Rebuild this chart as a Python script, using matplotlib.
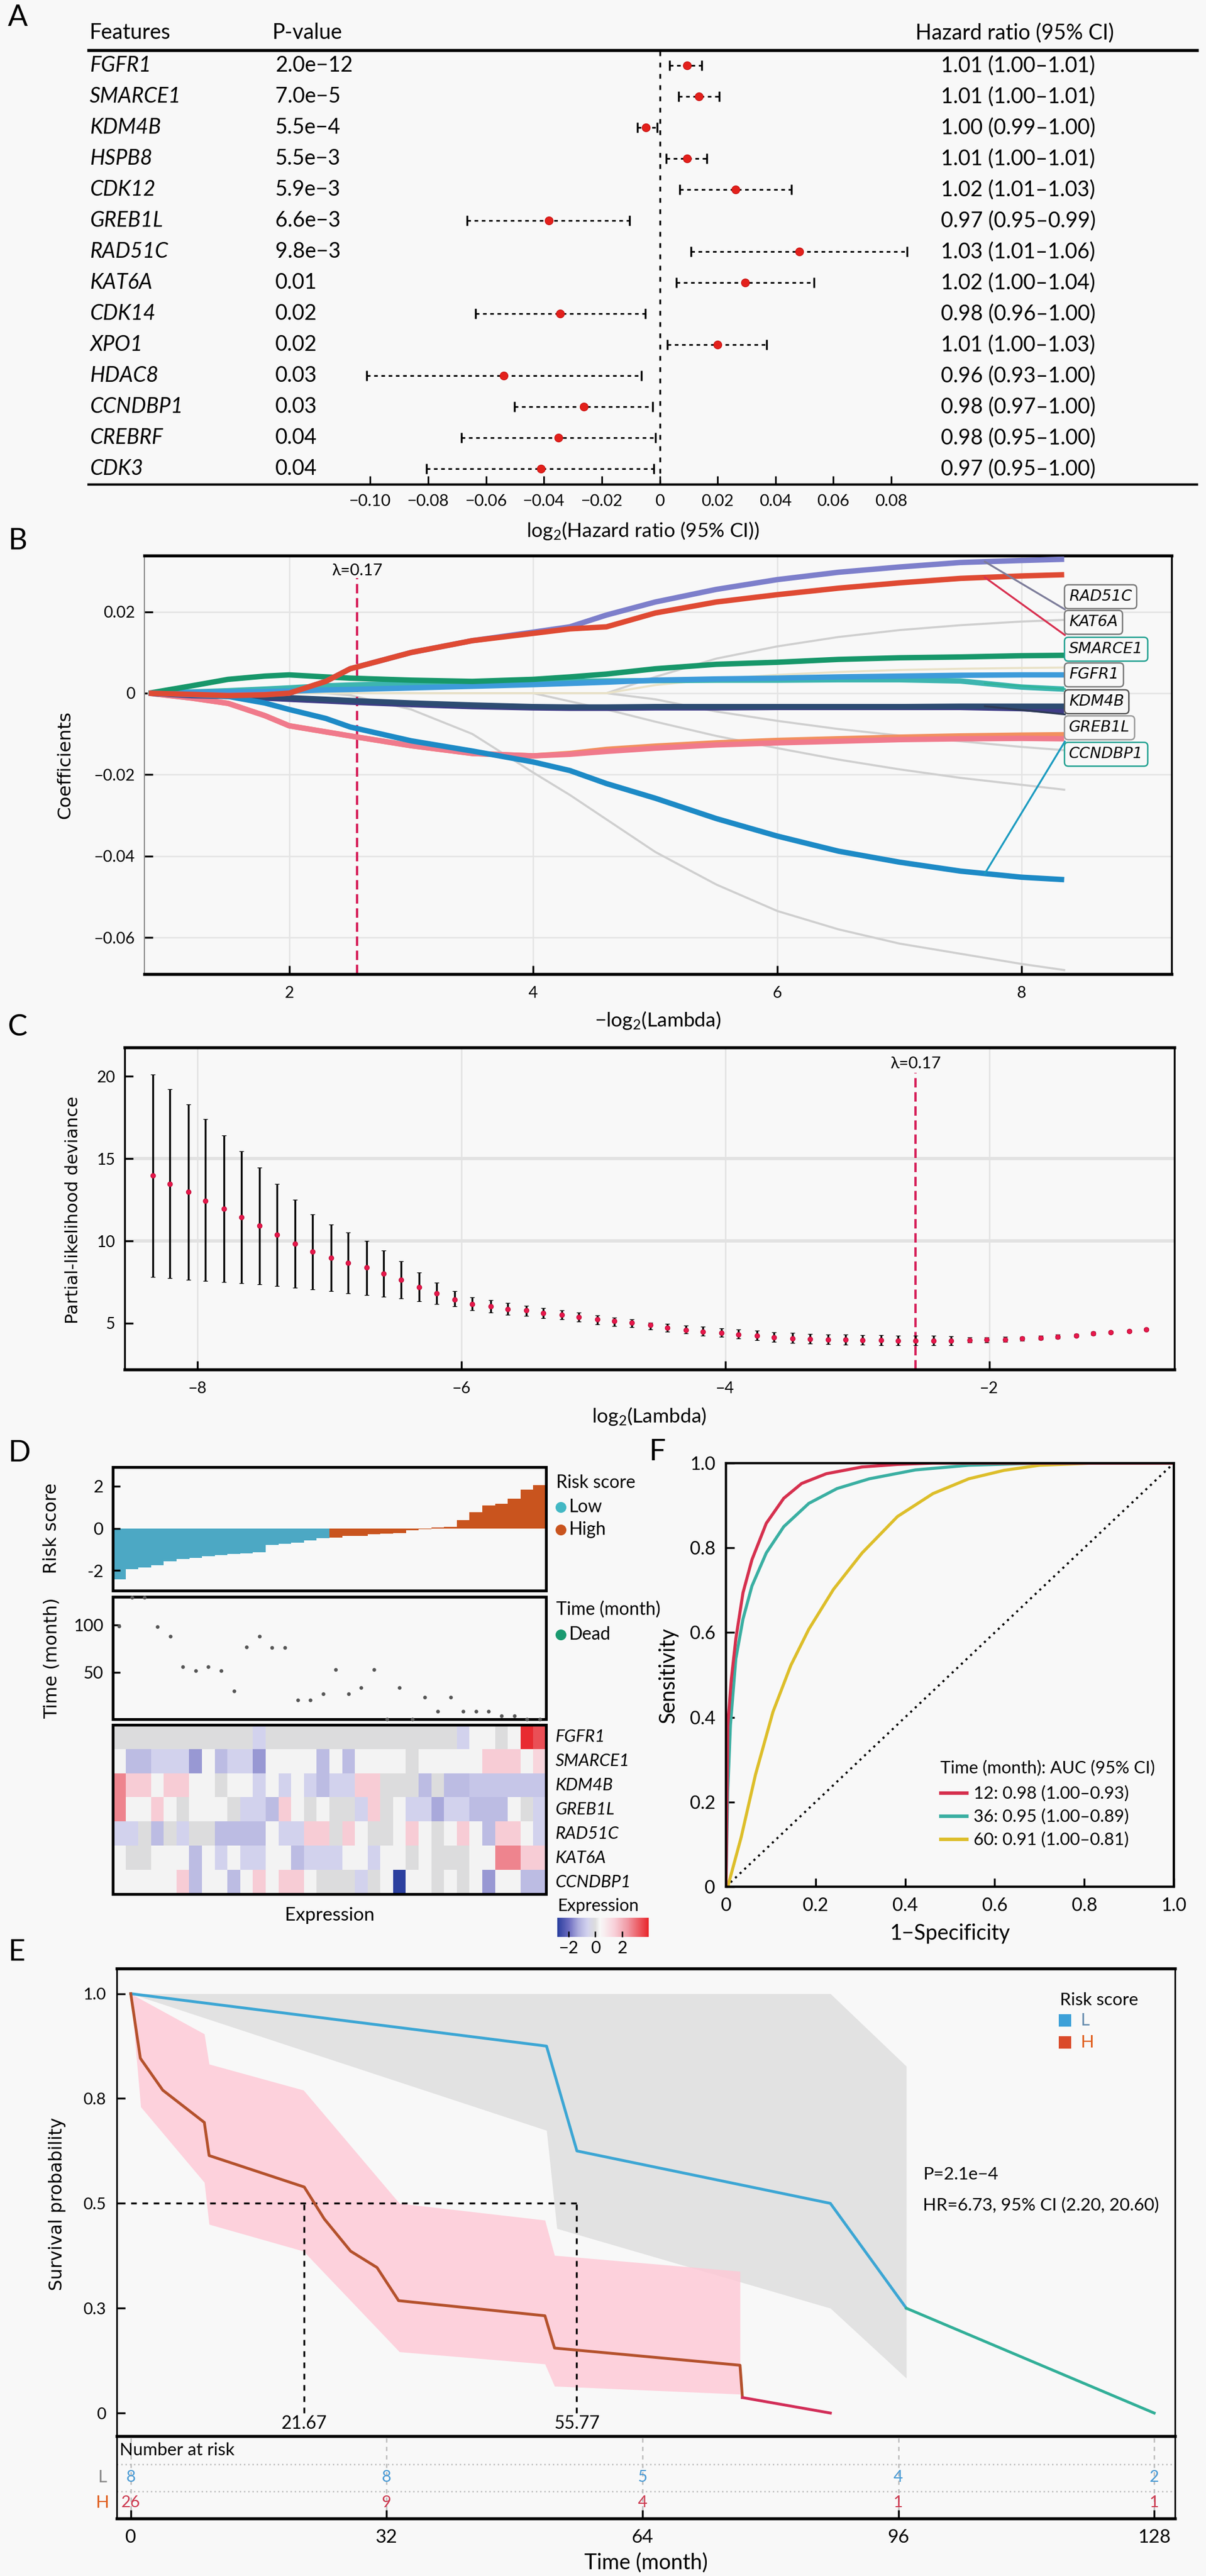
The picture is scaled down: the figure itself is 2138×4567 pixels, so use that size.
import numpy as np
import matplotlib
matplotlib.use('Agg')
import matplotlib.pyplot as plt
from matplotlib.colors import LinearSegmentedColormap, Normalize
from matplotlib.transforms import blended_transform_factory
from matplotlib.patches import Rectangle

W, H, DPI = 2138, 4567, 300
BG = '#F8F8F8'
plt.rcParams['font.family'] = ['Lato', 'DejaVu Sans']
plt.rcParams['mathtext.fontset'] = 'custom'
plt.rcParams['mathtext.rm'] = 'Lato'
plt.rcParams['mathtext.it'] = 'Lato:italic'
plt.rcParams['mathtext.bf'] = 'Lato:bold'
plt.rcParams['axes.unicode_minus'] = True
WIDE = ['DejaVu Sans']

# ================= DATA =================
# --- Panel A: univariate Cox forest ---
features = ['FGFR1', 'SMARCE1', 'KDM4B', 'HSPB8', 'CDK12', 'GREB1L', 'RAD51C',
            'KAT6A', 'CDK14', 'XPO1', 'HDAC8', 'CCNDBP1', 'CREBRF', 'CDK3']
pvalues = ['2.0e\u221212', '7.0e\u22125', '5.5e\u22124', '5.5e\u22123', '5.9e\u22123',
           '6.6e\u22123', '9.8e\u22123', '0.01', '0.02', '0.02', '0.03', '0.03', '0.04', '0.04']
hr_text = ['1.01 (1.00\u20131.01)', '1.01 (1.00\u20131.01)', '1.00 (0.99\u20131.00)',
           '1.01 (1.00\u20131.01)', '1.02 (1.01\u20131.03)', '0.97 (0.95\u20130.99)',
           '1.03 (1.01\u20131.06)', '1.02 (1.00\u20131.04)', '0.98 (0.96\u20131.00)',
           '1.01 (1.00\u20131.03)', '0.96 (0.93\u20131.00)', '0.98 (0.97\u20131.00)',
           '0.98 (0.95\u20131.00)', '0.97 (0.95\u20131.00)']
log2_hr = [0.0094, 0.0135, -0.0048, 0.0094, 0.0262, -0.0383, 0.0483, 0.0296,
           -0.0343, 0.0199, -0.0538, -0.0263, -0.0350, -0.0411]
log2_lo = [0.0035, 0.0065, -0.0077, 0.0023, 0.0070, -0.0666, 0.0109, 0.0057,
           -0.0636, 0.0027, -0.1013, -0.0502, -0.0685, -0.0805]
log2_hi = [0.0145, 0.0206, -0.0008, 0.0162, 0.0455, -0.0104, 0.0855, 0.0533,
           -0.0050, 0.0370, -0.0064, -0.0024, -0.0015, -0.0020]
forest_ticks = [-0.10, -0.08, -0.06, -0.04, -0.02, 0, 0.02, 0.04, 0.06, 0.08]
forest_ticklabels = ['\u22120.10', '\u22120.08', '\u22120.06', '\u22120.04', '\u22120.02',
                     '0', '0.02', '0.04', '0.06', '0.08']

# --- Panel B: LASSO coefficient paths ---
neglog2_lambda = [0.85, 1.2, 1.5, 1.8, 2.0, 2.3, 2.5, 3.0, 3.5, 4.0, 4.3, 4.6,
                  5.0, 5.5, 6.0, 6.5, 7.0, 7.5, 8.0, 8.35]
path_RAD51C = [0, -0.0003, -0.0005, -0.0003, 0.0, 0.0029, 0.0060, 0.0100, 0.0129, 0.0150,
               0.0163, 0.0192, 0.0224, 0.0255, 0.0279, 0.0297, 0.0310, 0.0321, 0.0326, 0.0329]
path_KAT6A = [0, -0.0003, -0.0006, -0.0004, 0.0, 0.0029, 0.0060, 0.0100, 0.0129, 0.0147,
              0.0158, 0.0163, 0.0197, 0.0224, 0.0242, 0.0258, 0.0271, 0.0282, 0.0288, 0.0291]
path_SMARCE1 = [0, 0.0018, 0.0034, 0.0042, 0.0045, 0.0040, 0.0037, 0.0032, 0.0029, 0.0034,
                0.0040, 0.0047, 0.0060, 0.0071, 0.0076, 0.0083, 0.0087, 0.0089, 0.0092, 0.0093]
path_FGFR1 = [0, 0.0002, 0.0003, 0.0004, 0.0005, 0.0008, 0.0009, 0.0013, 0.0017, 0.0021,
              0.0024, 0.0027, 0.0032, 0.0035, 0.0037, 0.0040, 0.0042, 0.0044, 0.0045, 0.0045]
path_teal = [0, 0.0003, 0.0006, 0.0010, 0.0013, 0.0018, 0.0020, 0.0024, 0.0026, 0.0028,
             0.0029, 0.0030, 0.0031, 0.0032, 0.0032, 0.0033, 0.0033, 0.0030, 0.0015, 0.0010]
path_KDM4B = [0, -0.0004, -0.0007, -0.0009, -0.0011, -0.0015, -0.0018, -0.0024, -0.0029, -0.0033,
              -0.0034, -0.0034, -0.0033, -0.0033, -0.0033, -0.0033, -0.0033, -0.0032, -0.0032, -0.0032]
path_GREB1L = [0, -0.0006, -0.0008, -0.0012, -0.0015, -0.0019, -0.0022, -0.0028, -0.0033, -0.0036,
               -0.0037, -0.0037, -0.0036, -0.0036, -0.0035, -0.0035, -0.0035, -0.0035, -0.0038, -0.0044]
path_salmon = [0, -0.0012, -0.0025, -0.0055, -0.0080, -0.0095, -0.0105, -0.0129, -0.0148, -0.0154,
               -0.0148, -0.0138, -0.0130, -0.0122, -0.0116, -0.0112, -0.0108, -0.0105, -0.0103, -0.0102]
path_pink = [0, -0.0012, -0.0025, -0.0055, -0.0080, -0.0095, -0.0105, -0.0129, -0.0148, -0.0154,
             -0.0150, -0.0143, -0.0135, -0.0127, -0.0122, -0.0118, -0.0114, -0.0112, -0.0111, -0.0112]
path_CCNDBP1 = [0, -0.0004, -0.0008, -0.0024, -0.0040, -0.0062, -0.0083, -0.0117, -0.0142, -0.0169,
                -0.0190, -0.0222, -0.0258, -0.0308, -0.0351, -0.0388, -0.0415, -0.0437, -0.0452, -0.0458]
path_gray1 = [0, 0, 0, 0, 0, 0, 0, 0, 0, 0, 0, 0, 0.0040, 0.0085, 0.0115, 0.0138, 0.0155, 0.0167, 0.0176, 0.0180]
path_gray2 = [0, 0, 0, 0, 0, 0, -0.0005, -0.0040, -0.0100, -0.0195, -0.0250, -0.0310, -0.0390, -0.0470,
              -0.0535, -0.0580, -0.0615, -0.0640, -0.0665, -0.0680]
path_gray3 = [0, 0, 0, 0, 0, 0, 0, 0, 0, 0, -0.0020, -0.0040, -0.0070, -0.0105, -0.0135, -0.0163,
              -0.0187, -0.0208, -0.0225, -0.0237]
path_gray4 = [0, 0, 0, 0, 0, 0, 0, 0, 0, 0, 0, 0, -0.0015, -0.0045, -0.0068, -0.0088, -0.0104,
              -0.0118, -0.0132, -0.0140]
path_gray5 = [0, 0, 0, 0, 0, 0, 0, 0, 0, 0, 0, 0, 0.0020, 0.0035, 0.0045, 0.0052, 0.0057, 0.0060, 0.0062, 0.0063]
label_names = ['RAD51C', 'KAT6A', 'SMARCE1', 'FGFR1', 'KDM4B', 'GREB1L', 'CCNDBP1']
label_y = [0.0237, 0.0174, 0.0108, 0.0045, -0.0021, -0.0085, -0.0150]
lambda_min = 0.17

# --- Panel C: cross-validation ---
log2_lambda = [-8.34, -8.21, -8.07, -7.94, -7.80, -7.67, -7.53, -7.40, -7.26, -7.13, -6.99, -6.86,
               -6.72, -6.59, -6.46, -6.32, -6.19, -6.05, -5.92, -5.78, -5.65, -5.51, -5.38, -5.24,
               -5.11, -4.97, -4.84, -4.71, -4.57, -4.44, -4.30, -4.17, -4.03, -3.90, -3.76, -3.63,
               -3.49, -3.36, -3.22, -3.09, -2.96, -2.82, -2.69, -2.56, -2.42, -2.29, -2.15, -2.02,
               -1.88, -1.75, -1.61, -1.48, -1.34, -1.21, -1.08, -0.94, -0.81]
cv_mean = [13.96, 13.47, 12.97, 12.44, 11.97, 11.45, 10.94, 10.37, 9.82, 9.35, 8.96, 8.66, 8.38,
           8.00, 7.64, 7.19, 6.82, 6.44, 6.15, 6.01, 5.87, 5.77, 5.63, 5.51, 5.37, 5.23, 5.13,
           5.03, 4.89, 4.74, 4.60, 4.50, 4.42, 4.32, 4.25, 4.15, 4.09, 4.05, 4.02, 3.99, 3.98,
           3.98, 3.95, 3.95, 3.95, 3.95, 3.98, 3.99, 4.02, 4.06, 4.12, 4.19, 4.26, 4.38, 4.45,
           4.52, 4.63]
cv_upper = [20.1, 19.2, 18.3, 17.4, 16.4, 15.45, 14.46, 13.47, 12.5, 11.6, 11.0, 10.5, 10.0,
            9.42, 8.78, 8.07, 7.46, 6.94, 6.58, 6.39, 6.22, 6.05, 5.91, 5.80, 5.65, 5.47, 5.34,
            5.23, 5.05, 4.95, 4.85, 4.78, 4.70, 4.62, 4.55, 4.45, 4.40, 4.36, 4.33, 4.30, 4.29,
            4.28, 4.26, 4.25, 4.24, 4.22, 4.14, 4.14, 4.16, 4.19, 4.24, 4.30, 4.36, 4.47, 4.53,
            4.60, 4.70]
cv_lower = [7.81, 7.74, 7.64, 7.57, 7.50, 7.43, 7.36, 7.26, 7.17, 7.07, 6.96, 6.82, 6.72,
            6.60, 6.50, 6.33, 6.18, 6.01, 5.80, 5.65, 5.51, 5.44, 5.30, 5.23, 5.11, 4.94, 4.84,
            4.77, 4.63, 4.50, 4.38, 4.26, 4.16, 4.06, 3.98, 3.86, 3.80, 3.76, 3.73, 3.70, 3.69,
            3.68, 3.66, 3.65, 3.66, 3.68, 3.82, 3.84, 3.88, 3.93, 4.00, 4.08, 4.16, 4.29, 4.37,
            4.44, 4.56]

# --- Panel D: risk score / survival time / expression heatmap ---
risk_score = [-2.42, -1.95, -1.86, -1.76, -1.56, -1.47, -1.40, -1.33, -1.28, -1.23, -1.19, -1.14,
              -0.79, -0.73, -0.67, -0.58, -0.47, -0.45, -0.37, -0.35, -0.29, -0.26, -0.22, -0.09,
              -0.03, 0.03, 0.08, 0.40, 0.76, 1.10, 1.17, 1.41, 1.83, 2.05]
risk_group = ['Low'] * 17 + ['High'] * 17
surv_time = [98.6, 129, 129, 97.7, 88, 56, 51.4, 55.6, 51.4, 30, 76.5, 88, 76, 76, 21, 21, 27,
             53, 27, 33.6, 53, 0.6, 33.6, 0.6, 23.7, 9, 23.7, 9, 9, 9, 4, 4, 0.6, 0.6]
heat_genes = ['FGFR1', 'SMARCE1', 'KDM4B', 'GREB1L', 'RAD51C', 'KAT6A', 'CCNDBP1']
expr_FGFR1 = [0, 0, 0, 0, 0, 0, 0, 0, 0, 0, 0, -0.6, 0, 0, 0, 0, 0, 0, 0, 0, 0, 0, 0, 0, 0, 0, 0,
              -0.6, 0.3, 0.3, 0, 0.3, 3.9, 3.4]
expr_SMARCE1 = [0.3, -1.0, -1.0, -0.6, -0.6, -0.6, -1.5, 0.3, -1.0, -0.6, -0.6, -1.5, 0.3, 0.3,
                0.3, 0.3, -1.0, 0.3, -1.0, 0.3, 0.3, 0.3, 0.3, 0, 0.3, 0.3, 0.3, 0.3, 0.3, 1.5,
                1.5, 1.5, 0.3, 1.3]
expr_KDM4B = [2.7, 1.5, 1.5, 0.3, 1.5, 1.5, 0.3, 0.3, 0, 0.3, 0.3, -0.6, 0.3, -0.6, 0.3, -0.6,
              -1.0, -0.6, -0.6, 1.5, 1.5, 0, 0, 0, -1.0, 0, -1.0, -1.0, -0.8, -0.8, -0.8, -0.8,
              -0.8, -0.8]
expr_GREB1L = [2.7, 0.3, 0.3, 1.5, 0.3, 0, 0.3, 0.3, 0.3, 0, -0.6, -0.6, -1.0, 1.5, 0.3, 0, 0.3,
               0, 0, -0.6, 1.5, 0, 0.3, -0.6, -0.6, -1.3, -0.6, -0.6, -1.0, -1.0, -1.0, 0.3, 0,
               -0.6]
expr_RAD51C = [-0.6, -0.6, 0, -1.0, 0, -0.6, 0, 0, -1.0, -1.0, -1.0, -1.0, 0.3, -0.6, -0.6, 1.5,
               1.5, 0, 1.5, 0.3, 0, 0, 0.3, 1.5, 0.3, 0, 0.3, 1.5, 0.3, -1.0, 1.5, 1.5, 0.3, -0.6]
expr_KAT6A = [0.3, 0, 0, 0.3, 0.3, 0.3, -1.0, 0.3, -0.6, 0.3, -0.6, -0.6, 0.3, 0.3, -1.0, -0.6,
              -0.6, -0.6, 0.3, 0.3, -0.6, 0.3, 0.3, 0, 0.3, 0, 0, 0, 0.3, 0.3, 2.7, 2.7, 1.5, 1.5]
expr_CCNDBP1 = [0.3, 0.3, 0.3, 0.3, 0.3, 1.5, -1.0, 0.3, 0.3, -1.0, 0.3, 1.5, 0.3, 1.5, 1.5, 0.3,
                0, 0, 0, -0.6, 0, 0.3, -2.8, 0.3, 0.3, 0, 0.3, 0, 0.3, -1.5, 0.3, 0.3, -1.0, -1.0]

# --- Panel E: Kaplan-Meier ---
km_time_L = [0, 52.0, 55.8, 87.5, 97.0, 128.0]
km_surv_L = [1.0, 0.875, 0.625, 0.5, 0.25, 0.0]
km_time_H = [0, 1.2, 4.0, 9.2, 9.8, 21.7, 24.2, 27.5, 30.8, 33.5, 51.8, 53.0, 76.2, 76.5, 87.5]
km_surv_H = [1.0, 0.846, 0.77, 0.693, 0.614, 0.539, 0.463, 0.386, 0.347, 0.268, 0.232, 0.155,
             0.114, 0.037, 0.0]
ci_L_upper_t = [0, 87.5, 97.0]
ci_L_upper = [1.0, 1.0, 0.827]
ci_L_lower_t = [0, 52.0, 53.3, 87.5, 97.0]
ci_L_lower = [1.0, 0.674, 0.44, 0.25, 0.083]
ci_H_upper_t = [0, 9.2, 9.8, 21.6, 33.6, 51.8, 53.0, 76.2]
ci_H_upper = [1.0, 0.904, 0.832, 0.77, 0.50, 0.46, 0.376, 0.338]
ci_H_lower_t = [0, 1.25, 9.2, 9.8, 21.6, 33.6, 51.8, 53.0, 76.2]
ci_H_lower = [1.0, 0.73, 0.55, 0.45, 0.386, 0.146, 0.117, 0.064, 0.045]
median_times = [21.67, 55.77]
risk_table_t = [0, 32, 64, 96, 128]
at_risk_L = [8, 8, 5, 4, 2]
at_risk_H = [26, 9, 4, 1, 1]

# --- Panel F: time-dependent ROC ---
roc12_fpr = [0, 0.004, 0.012, 0.022, 0.038, 0.058, 0.09, 0.129, 0.169, 0.224, 0.304, 0.383, 0.462, 1.0]
roc12_tpr = [0, 0.38, 0.49, 0.585, 0.694, 0.772, 0.858, 0.917, 0.952, 0.975, 0.991, 0.997, 1.0, 1.0]
roc36_fpr = [0, 0.004, 0.010, 0.022, 0.038, 0.058, 0.09, 0.129, 0.185, 0.248, 0.32, 0.423, 0.542, 0.70, 1.0]
roc36_tpr = [0, 0.226, 0.382, 0.538, 0.632, 0.71, 0.788, 0.85, 0.905, 0.94, 0.963, 0.984, 0.995, 1.0, 1.0]
roc60_fpr = [0, 0.004, 0.034, 0.066, 0.105, 0.145, 0.185, 0.24, 0.304, 0.383, 0.462, 0.542, 0.621, 0.70, 0.819, 1.0]
roc60_tpr = [0, 0.0, 0.117, 0.265, 0.413, 0.523, 0.608, 0.702, 0.788, 0.874, 0.928, 0.963, 0.983, 0.995, 1.0, 1.0]
roc_labels = ['12: 0.98 (1.00\u20130.93)', '36: 0.95 (1.00\u20130.89)', '60: 0.91 (1.00\u20130.81)']

# ================= FIGURE =================
fig = plt.figure(figsize=(W / DPI, H / DPI), dpi=DPI, facecolor=BG)


def add_ax(l, t, r, b, **kw):
    ax = fig.add_axes([l / W, 1 - b / H, (r - l) / W, (b - t) / H], **kw)
    ax.set_facecolor('none')
    return ax


ov = fig.add_axes([0, 0, 1, 1], zorder=30)
ov.set_xlim(0, W)
ov.set_ylim(H, 0)
ov.axis('off')
ov.patch.set_alpha(0)


def T(x, y, s, **kw):
    kw.setdefault('va', 'center')
    kw.setdefault('ha', 'left')
    ov.text(x, y, s, **kw)


# panel letters
for lx, ly, s in [(14, 8, 'A'), (14, 936, 'B'), (14, 1798, 'C'), (14, 2553, 'D'),
                  (1150, 2551, 'F'), (14, 3438, 'E')]:
    T(lx, ly, s, size=12.5, va='top')

# ---------- A ----------
axA = add_ax(157, 89, 2122, 859)
n = len(features)
rows = np.arange(n)
axA.set_xlim(-0.1973, 0.1856)
axA.set_ylim(n - 0.49, -0.49)
axA.axvline(0, color='k', lw=0.8, ls=(0, (2.5, 3.5)), zorder=1)
axA.hlines(rows, log2_lo, log2_hi, colors='k', lw=0.7, linestyles=(0, (2.2, 2.2)), zorder=2)
axA.plot(log2_lo, rows, '|', color='k', ms=4.2, mew=0.8, zorder=2)
axA.plot(log2_hi, rows, '|', color='k', ms=4.2, mew=0.8, zorder=2)
axA.plot(log2_hr, rows, 'o', color='#E3201B', ms=3.4, mec='#C81414', mew=0.3, zorder=3)
for s in ['left', 'right']:
    axA.spines[s].set_visible(False)
axA.spines['top'].set_linewidth(1.3)
axA.spines['bottom'].set_linewidth(1.0)
axA.set_yticks([])
axA.set_xticks(forest_ticks)
axA.set_xticklabels(forest_ticklabels)
axA.tick_params(axis='x', direction='in', length=3.5, width=0.7, labelsize=7, pad=4)
trA = blended_transform_factory(fig.transFigure, axA.transData)
for i in rows:
    axA.text(159 / W, i, features[i], transform=trA, style='italic', size=9, va='center')
    axA.text(488 / W, i, pvalues[i], transform=trA, size=9, va='center')
    axA.text(1668 / W, i, hr_text[i], transform=trA, size=9, va='center')
T(159, 58, 'Features', size=9)
T(483, 58, 'P-value', size=9)
T(1623, 58, 'Hazard ratio (95% CI)', size=9)
T(1140, 941, r'log$_2$(Hazard ratio (95% CI))', size=8.5, ha='center')

# ---------- B ----------
axB = add_ax(256, 985, 2077, 1727)
xB = neglog2_lambda
axB.set_xlim(0.814, 9.23)
axB.set_ylim(-0.069, 0.0338)
axB.grid(True, color='#E4E4E4', lw=0.6)
axB.set_axisbelow(True)
for g in [path_gray1, path_gray2, path_gray3, path_gray4]:
    axB.plot(xB, g, color='#CFCFCF', lw=0.9, zorder=1)
axB.plot(xB, path_gray5, color='#E9E2C8', lw=0.9, zorder=1)
lw_path = 2.3
paths = [
    (path_salmon, '#F2905F'), (path_pink, '#F07A8C'), (path_GREB1L, '#3E3C86'),
    (path_KDM4B, '#2D4C72'), (path_teal, '#3DB5B0'), (path_FGFR1, '#3D9BDA'),
    (path_SMARCE1, '#17976A'), (path_CCNDBP1, '#1D8AC6'), (path_RAD51C, '#7D7FCB'),
    (path_KAT6A, '#DF4A33'),
]
for p, c in paths:
    axB.plot(xB, p, color=c, lw=lw_path, solid_capstyle='butt', zorder=3)
# label connectors
box_half = 0.0031
xj = 7.70
conn = [
    (path_RAD51C, 0, -box_half, '#7D7D9A'),
    (path_KAT6A, 1, -box_half, '#D83050'),
    (path_teal, 4, box_half, '#2FB59A'),
    (path_KDM4B, 4, -box_half, '#2D3A55'),
    (path_CCNDBP1, 6, box_half, '#1C9BC0'),
]
for p, k, off, c in conn:
    y0 = np.interp(xj, xB, p)
    axB.plot([xj, 8.355], [y0, label_y[k] + off], color=c, lw=0.8, zorder=4)
edge_cols = ['#7A7A7A', '#7A7A7A', '#20A090', '#7A7A7A', '#555555', '#9A9A9A', '#20A090']
for k, name in enumerate(label_names):
    axB.text(8.39, label_y[k], name, style='italic', family=WIDE, size=6.5, va='center',
             ha='left', zorder=5,
             bbox=dict(boxstyle='round,pad=0.3,rounding_size=0.25', fc=BG, ec=edge_cols[k], lw=0.6))
lam_x = -np.log2(lambda_min)
axB.vlines(lam_x, -0.069, 0.0283, colors='#D6205A', lw=1.0, linestyles=(0, (4, 2)), zorder=2)
axB.text(lam_x, 0.0300, '\u03bb=0.17', ha='center', va='center', size=7)
axB.set_xticks([2, 4, 6, 8])
axB.set_yticks([0.02, 0, -0.02, -0.04, -0.06])
axB.set_yticklabels(['0.02', '0', '\u22120.02', '\u22120.04', '\u22120.06'])
axB.tick_params(direction='in', length=3.5, width=0.8, labelsize=6.8)
axB.tick_params(axis='x', pad=5)
axB.tick_params(axis='y', pad=4)
axB.spines['top'].set_linewidth(1.3)
axB.spines['bottom'].set_linewidth(1.3)
axB.spines['left'].set_linewidth(0.5)
axB.spines['left'].set_color('#888888')
axB.spines['right'].set_linewidth(0.8)
T(1166, 1809, '\u2212log$_2$(Lambda)', size=8.5, ha='center')
T(116, 1356, 'Coefficients', family=WIDE, size=7.8, rotation=90, ha='center')

# ---------- C ----------
axC = add_ax(221, 1857, 2082, 2428)
axC.set_xlim(-8.553, -0.596)
axC.set_ylim(2.19, 21.75)
axC.set_xticks([-8, -6, -4, -2])
axC.set_yticks([5, 10, 15, 20])
axC.grid(True, axis='x', color='#E2E2E2', lw=0.6)
for yy in [10, 15]:
    axC.axhline(yy, color='#E2E2E2', lw=1.4, zorder=0)
cm = np.array(cv_mean)
axC.errorbar(log2_lambda, cv_mean, yerr=[cm - np.array(cv_lower), np.array(cv_upper) - cm],
             fmt='o', color='#E8174B', ms=2.0, mec='#C0103A', mew=0.3, ecolor='k',
             elinewidth=0.8, capsize=0.9, capthick=0.8, zorder=3)
lam_log = np.log2(lambda_min)
axC.vlines(lam_log, 2.19, 20.2, colors='#D6205A', lw=1.0, linestyles=(0, (4, 2)), zorder=2)
axC.text(lam_log, 20.74, '\u03bb=0.17', ha='center', va='center', size=7)
axC.tick_params(direction='in', length=3.5, width=0.8, labelsize=6.8)
axC.tick_params(axis='x', pad=5)
axC.tick_params(axis='y', pad=4)
axC.spines['top'].set_linewidth(1.3)
axC.spines['bottom'].set_linewidth(1.3)
axC.spines['left'].set_linewidth(0.8)
axC.spines['right'].set_linewidth(0.8)
T(1151, 2511, 'log$_2$(Lambda)', size=8.5, ha='center')
T(130, 2145, 'Partial-likelihood deviance', family=WIDE, size=7.4, rotation=90, ha='center')

# ---------- D ----------
pid = np.arange(len(risk_score))
col_low, col_high = '#4CA8C4', '#C9541E'
axR = add_ax(200, 2601, 968, 2820)
axR.bar(pid, risk_score, width=1.0, color=[col_low if g == 'Low' else col_high for g in risk_group],
        edgecolor='none')
axR.set_xlim(-0.5, len(pid) - 0.5)
axR.set_ylim(-2.96, 2.91)
axR.set_xticks([])
axR.set_yticks([2, 0, -2])
axR.set_yticklabels(['2', '0', '-2'])
axT = add_ax(200, 2831, 968, 3048)
axT.scatter(pid, surv_time, s=2.5, color='#555555', zorder=3, clip_on=False, linewidths=0)
axT.set_xlim(-0.5, len(pid) - 0.5)
axT.set_ylim(0.5, 129.5)
axT.set_xticks([])
axT.set_yticks([50, 100])
for ax in (axR, axT):
    ax.tick_params(direction='in', length=3, width=0.8, labelsize=7.4, pad=4)
    for s in ax.spines.values():
        s.set_linewidth(1.2)
hm_colors = [(-2.84, '#2A3F9E'), (-2.0, '#6B6BC0'), (-1.3, '#ABABDC'), (-0.6, '#D2D2EE'),
             (0.0, '#DDDDDD'), (0.35, '#F8F8F8'), (1.4, '#F8D2DA'), (2.4, '#F09AA5'),
             (3.98, '#E8262B')]
vmin, vmax = -2.84, 3.98
cmap = LinearSegmentedColormap.from_list(
    'expr', [((v - vmin) / (vmax - vmin), c) for v, c in hm_colors])
heat = np.array([expr_FGFR1, expr_SMARCE1, expr_KDM4B, expr_GREB1L, expr_RAD51C,
                 expr_KAT6A, expr_CCNDBP1])
axH = add_ax(200, 3058, 968, 3358)
im = axH.imshow(heat, aspect='auto', cmap=cmap, norm=Normalize(vmin, vmax), interpolation='nearest')
axH.set_xticks([])
axH.set_yticks([])
for s in axH.spines.values():
    s.set_linewidth(1.2)
trH = blended_transform_factory(fig.transFigure, axH.transData)
for i, g in enumerate(heat_genes):
    axH.text(985 / W, i, g, transform=trH, style='italic', size=7.3, va='center', ha='left')
T(584, 3396, 'Expression', size=8, ha='center')
T(92, 2710, 'Risk score', family=WIDE, size=7.6, rotation=90, ha='center')
T(92, 2940, 'Time (month)', family=WIDE, size=7.6, rotation=90, ha='center')
T(986, 2629, 'Risk score', size=7.6)
ov.plot([994], [2672], 'o', color='#43B8C4', ms=3.6)
T(1008, 2672, 'Low', size=7.6)
ov.plot([994], [2712], 'o', color=col_high, ms=3.6)
T(1008, 2712, 'High', size=7.6)
T(986, 2854, 'Time (month)', size=7.6)
ov.plot([994], [2898], 'o', color='#1A9A70', ms=3.6)
T(1008, 2898, 'Dead', size=7.6)
T(988, 3379, 'Expression', size=7.3)
cax = add_ax(988, 3400, 1150, 3434)
cb = fig.colorbar(im, cax=cax, orientation='horizontal', ticks=[-2, 0, 2])
cb.outline.set_visible(False)
cb.ax.set_xticklabels(['\u22122', '0', '2'])
cb.ax.tick_params(length=2.5, width=0.6, labelsize=7.3, pad=1.5, direction='in')

# ---------- F ----------
axF = add_ax(1287, 2594, 2081, 3345)
axF.set_xlim(0, 1)
axF.set_ylim(0, 1)
roc_cols = ['#D6304E', '#3AAFA2', '#DDBE2A']
axF.plot([0, 1], [0, 1], ls=(0, (1, 2)), color='k', lw=0.9)
for fpr, tpr, c in [(roc60_fpr, roc60_tpr, roc_cols[2]), (roc36_fpr, roc36_tpr, roc_cols[1]),
                    (roc12_fpr, roc12_tpr, roc_cols[0])]:
    axF.plot(fpr, tpr, color=c, lw=1.3, solid_joinstyle='round')
ft = [0, 0.2, 0.4, 0.6, 0.8, 1.0]
fl = ['0', '0.2', '0.4', '0.6', '0.8', '1.0']
axF.set_xticks(ft)
axF.set_xticklabels(fl)
axF.set_yticks(ft)
axF.set_yticklabels(fl)
axF.tick_params(direction='in', length=3.5, width=0.8, labelsize=7.8, pad=4.5)
for s in axF.spines.values():
    s.set_linewidth(1.0)
T(1685, 3428, '1\u2212Specificity', size=9, ha='center')
T(1185, 2970, 'Sensitivity', size=9, rotation=90, ha='center')
T(1667, 3134, 'Time (month): AUC (95% CI)', size=7.4)
for k, (lab, c) in enumerate(zip(roc_labels, roc_cols)):
    yy = 3179 + 41 * k
    ov.plot([1668, 1714], [yy, yy], color=c, lw=1.5)
    T(1726, yy, lab, size=7.4)

# ---------- E ----------
axE = add_ax(207, 3490, 2083, 4319)
axE.set_xlim(-1.75, 130.6)
axE.set_ylim(-0.055, 1.06)
tL = sorted(set(ci_L_upper_t) | set(ci_L_lower_t))
axE.fill_between(tL, np.interp(tL, ci_L_upper_t, ci_L_upper), np.interp(tL, ci_L_lower_t, ci_L_lower),
                 color='#E2E2E2', lw=0, zorder=1)
tHc = sorted(set(ci_H_upper_t) | set(ci_H_lower_t))
axE.fill_between(tHc, np.interp(tHc, ci_H_upper_t, ci_H_upper), np.interp(tHc, ci_H_lower_t, ci_H_lower),
                 color='#FFC8D6', alpha=0.8, lw=0, zorder=2)
m0, m1 = median_times
axE.plot([0, m1], [0.5, 0.5], color='k', lw=0.8, ls=(0, (3, 3)), zorder=3)
axE.vlines(median_times, 0, 0.5, colors='k', lw=0.8, linestyles=(0, (3, 3)), zorder=3)
axE.plot(km_time_L[:-1], km_surv_L[:-1], color='#3CA6D4', lw=1.2, zorder=4)
axE.plot(km_time_L[-2:], km_surv_L[-2:], color='#32AF98', lw=1.2, zorder=4)
axE.plot(km_time_H[:-1], km_surv_H[:-1], color='#B4512C', lw=1.2, zorder=4)
axE.plot(km_time_H[-2:], km_surv_H[-2:], color='#D22E58', lw=1.2, zorder=4)
for mt in median_times:
    axE.text(mt, -0.025, f'{mt:.2f}', ha='center', va='center', size=7.6)
axE.set_xticks([])
axE.set_yticks([0, 0.25, 0.5, 0.75, 1.0])
axE.set_yticklabels(['0', '0.3', '0.5', '0.8', '1.0'])
axE.tick_params(direction='in', length=3.5, width=0.8, labelsize=7, pad=4.5)
axE.spines['top'].set_linewidth(1.3)
axE.spines['bottom'].set_linewidth(1.3)
axE.spines['left'].set_linewidth(0.7)
axE.spines['right'].set_linewidth(0.7)
T(1636, 3855, 'P=2.1e\u22124', size=7.5)
T(1636, 3909, 'HR=6.73, 95% CI (2.20, 20.60)', size=7.5)
T(1879, 3546, 'Risk score', size=7.5)
ov.add_patch(Rectangle((1877, 3571), 22, 22, color='#3CA0D8', lw=0))
ov.add_patch(Rectangle((1877, 3610), 22, 22, color='#DA4A2A', lw=0))
T(1915, 3582, 'L', size=7.5, color='#6A8FB0')
T(1915, 3621, 'H', size=7.5, color='#E06020')
T(102, 3907, 'Survival probability', family=WIDE, size=7.6, rotation=90, ha='center')

axN = add_ax(207, 4319, 2083, 4465)
axN.set_xlim(-1.75, 130.6)
axN.set_ylim(1.62, -1.62)
axN.set_yticks([])
axN.set_xticks(risk_table_t)
axN.grid(True, axis='x', color='#BBBBBB', lw=0.6, ls=(0, (3, 3)))
axN.axhline(-0.51, color='#BBBBBB', lw=0.6, ls=(0, (1, 2)))
axN.axhline(0.56, color='#BBBBBB', lw=0.6, ls=(0, (1, 2)))
for t, nl, nh in zip(risk_table_t, at_risk_L, at_risk_H):
    axN.text(t, 0, str(nl), ha='center', va='center', size=7, color='#4A9AD4')
    axN.text(t, 1, str(nh), ha='center', va='center', size=7, color='#CC3A50')
axN.text(-1.4, -1.07, 'Number at risk', ha='left', va='center', size=7.5)
axN.tick_params(direction='in', length=3.5, width=0.8, labelsize=8, pad=4.5)
axN.spines['top'].set_visible(False)
axN.spines['bottom'].set_linewidth(1.3)
axN.spines['left'].set_linewidth(0.7)
axN.spines['right'].set_linewidth(0.7)
T(181, 4392, 'L', size=7.5, color='#8A8A8A', ha='center')
T(181, 4437, 'H', size=7.5, color='#E06020', ha='center')
T(1145, 4543, 'Time (month)', size=9, ha='center')

fig.savefig('out.png', dpi=DPI, facecolor=BG)
